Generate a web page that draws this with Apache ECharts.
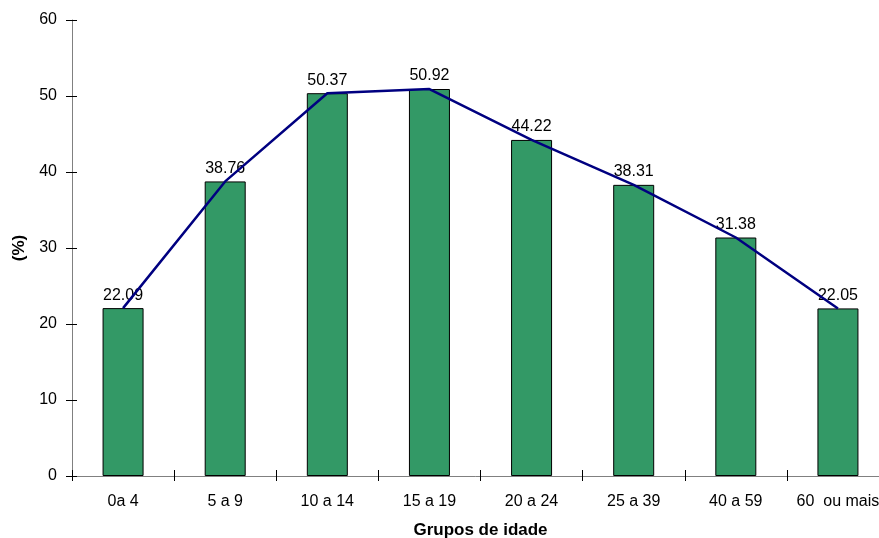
<!DOCTYPE html>
<html><head><meta charset="utf-8">
<script src="https://cdn.jsdelivr.net/npm/echarts@6/dist/echarts.min.js"></script>
<style>html,body{margin:0;padding:0;background:#fff}#c{width:879px;height:538px}</style>
</head><body><div id="c"></div>
<script>
const categories = ['0a 4', '5 a 9', '10 a 14', '15 a 19', '20 a 24', '25 a 39', '40 a 59', '60  ou mais'];
const values = [22.09, 38.76, 50.37, 50.92, 44.22, 38.31, 31.38, 22.05];
const yTicks = [0, 10, 20, 30, 40, 50, 60];
const font = 'Liberation Sans, Arial, sans-serif';
const chart = echarts.init(document.getElementById('c'));
const gridBox = {left: 72, width: 817, top: 20, height: 456, containLabel: false, outerBoundsMode: 'none'};
chart.setOption({
  animation: false,
  grid: [Object.assign({}, gridBox), Object.assign({}, gridBox)],
  xAxis: [
    {
      gridIndex: 0, type: 'category', data: categories, boundaryGap: true,
      axisLine: {lineStyle: {color: '#808080', width: 1}},
      axisTick: {show: true, length: 5, lineStyle: {color: '#000'}},
      name: 'Grupos de idade', nameLocation: 'middle', nameGap: 46,
      nameTextStyle: {fontFamily: font, fontSize: 17, fontWeight: 'bold', color: '#000'},
      axisLabel: {fontFamily: font, fontSize: 16, color: '#000', margin: 18, interval: 0, hideOverlap: false},
      splitLine: {show: false}
    },
    {
      gridIndex: 1, type: 'category', data: categories, boundaryGap: true,
      axisLine: {show: false}, axisLabel: {show: false}, splitLine: {show: false},
      axisTick: {show: true, inside: true, length: 6, lineStyle: {color: '#000'}}
    }
  ],
  yAxis: [
    {
      gridIndex: 0, type: 'value', min: 0, max: 60, interval: 10,
      name: '(%)', nameLocation: 'middle', nameGap: 42, nameRotate: 90,
      nameTextStyle: {fontFamily: font, fontSize: 17, fontWeight: 'bold', color: '#000'},
      axisLine: {show: true, lineStyle: {color: '#808080', width: 1}},
      axisTick: {show: true, length: 6, lineStyle: {color: '#000'}},
      axisLabel: {fontFamily: font, fontSize: 16, color: '#000', margin: 15,
        formatter: v => yTicks.includes(v) ? String(v) : ''},
      splitLine: {show: false}
    },
    {
      gridIndex: 1, type: 'value', min: 0, max: 60, interval: 10,
      axisLine: {show: false}, axisLabel: {show: false}, splitLine: {show: false},
      axisTick: {show: true, inside: true, length: 5, lineStyle: {color: '#000'}}
    }
  ],
  series: [
    {
      type: 'bar', xAxisIndex: 0, yAxisIndex: 0, data: values, barWidth: 41,
      itemStyle: {color: '#339966', borderColor: '#000', borderWidth: 1},
      label: {show: true, position: 'top', distance: 5, fontFamily: font, fontSize: 16, color: '#000',
        formatter: p => p.value.toFixed(2)}
    },
    {
      type: 'line', xAxisIndex: 0, yAxisIndex: 0, data: values, symbol: 'none', z: 5,
      lineStyle: {color: '#000080', width: 2.5}
    }
  ]
});
</script>
</body></html>
